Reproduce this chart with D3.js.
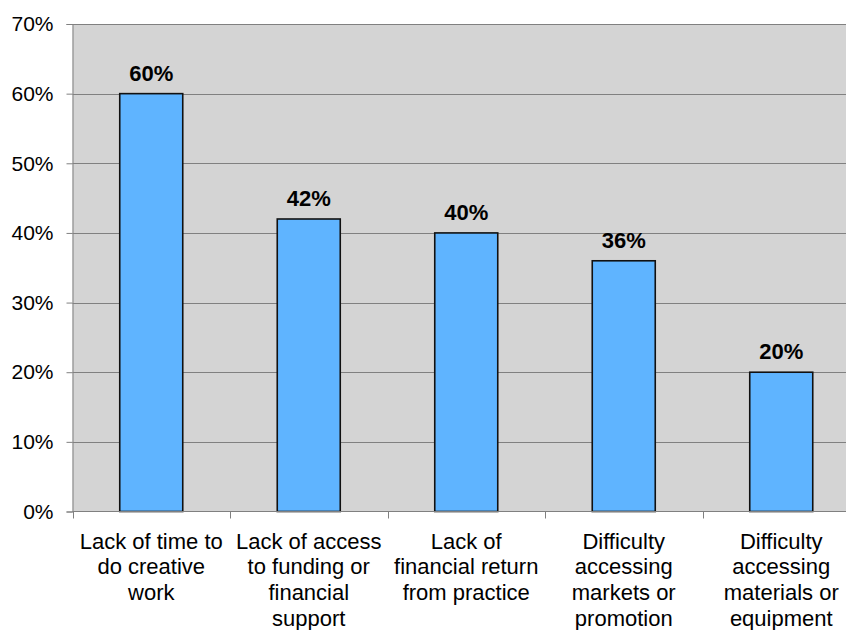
<!DOCTYPE html>
<html>
<head>
<meta charset="utf-8">
<script src="https://cdn.jsdelivr.net/npm/d3@7"></script>
<style>
  html, body { margin: 0; padding: 0; background: #fff; }
  svg { display: block; font-family: "Liberation Sans", Arial, sans-serif; }
</style>
</head>
<body>
<svg id="chart" width="846" height="630"></svg>
<script>
// Barriers to creative practice (share of respondents)
const categories = [
  ["Lack of time to", "do creative", "work"],
  ["Lack of access", "to funding or", "financial", "support"],
  ["Lack of", "financial return", "from practice"],
  ["Difficulty", "accessing", "markets or", "promotion"],
  ["Difficulty", "accessing", "materials or", "equipment"]
];
const values = [60, 42, 40, 36, 20];
const yTicks = [0, 10, 20, 30, 40, 50, 60, 70];

const svg = d3.select("#chart");
const margin = { left: 72.5, top: 24, bottom: 511.5 };
const plotRight = 860;

const x = d3.scaleBand()
  .domain(d3.range(categories.length))
  .range([margin.left, plotRight])
  .paddingInner(0.6)
  .paddingOuter(0.3);

const y = d3.scaleLinear().domain([0, 70]).range([margin.bottom, margin.top]);

// plot background
svg.append("rect")
  .attr("x", margin.left).attr("y", margin.top)
  .attr("width", plotRight - margin.left).attr("height", margin.bottom - margin.top)
  .attr("fill", "#d4d4d4");

// horizontal gridlines
svg.append("g").selectAll("line").data(yTicks.slice(1)).join("line")
  .attr("x1", margin.left).attr("x2", plotRight)
  .attr("y1", d => Math.round(y(d)) + 0.5).attr("y2", d => Math.round(y(d)) + 0.5)
  .attr("stroke", "#808080").attr("stroke-width", 1);

// y axis
const yAxis = d3.axisLeft(y).tickValues(yTicks).tickFormat(d => d + "%").tickSize(6).tickPadding(13);
const gy = svg.append("g").attr("transform", `translate(${margin.left},0)`).call(yAxis);
gy.select(".domain").attr("stroke", "#808080");
gy.selectAll(".tick line").attr("stroke", "#808080");
gy.selectAll(".tick text").attr("font-size", 21).attr("fill", "#000").attr("font-family", "Liberation Sans, Arial, sans-serif");

// bars
svg.append("g").selectAll("rect").data(values).join("rect")
  .attr("x", (d, i) => x(i))
  .attr("y", d => y(d))
  .attr("width", x.bandwidth())
  .attr("height", d => y(0) - y(d))
  .attr("fill", "#5fb4ff")
  .attr("stroke", "#111")
  .attr("stroke-width", 1.6);

// value labels
svg.append("g").selectAll("text").data(values).join("text")
  .attr("x", (d, i) => x(i) + x.bandwidth() / 2)
  .attr("y", d => y(d) - 13)
  .attr("text-anchor", "middle")
  .attr("font-weight", "bold")
  .attr("font-size", 22)
  .text(d => d + "%");

// x axis baseline and category separators
const step = x.step();
const bounds = d3.range(categories.length + 1).map(i => margin.left + i * step);
svg.append("line")
  .attr("x1", margin.left).attr("x2", plotRight)
  .attr("y1", margin.bottom).attr("y2", margin.bottom)
  .attr("stroke", "#808080");
svg.append("g").selectAll("line").data(bounds).join("line")
  .attr("x1", d => Math.round(d) + 0.5).attr("x2", d => Math.round(d) + 0.5)
  .attr("y1", margin.bottom).attr("y2", margin.bottom + 7)
  .attr("stroke", "#808080");

// category labels
const catG = svg.append("g").selectAll("text").data(categories).join("text")
  .attr("text-anchor", "middle")
  .attr("font-size", 22);
catG.selectAll("tspan").data((d, i) => d.map(t => ({ t, i }))).join("tspan")
  .attr("x", d => x(d.i) + x.bandwidth() / 2)
  .attr("y", (d, j) => 548.5 + j * 25.8)
  .text(d => d.t);
</script>
</body>
</html>
